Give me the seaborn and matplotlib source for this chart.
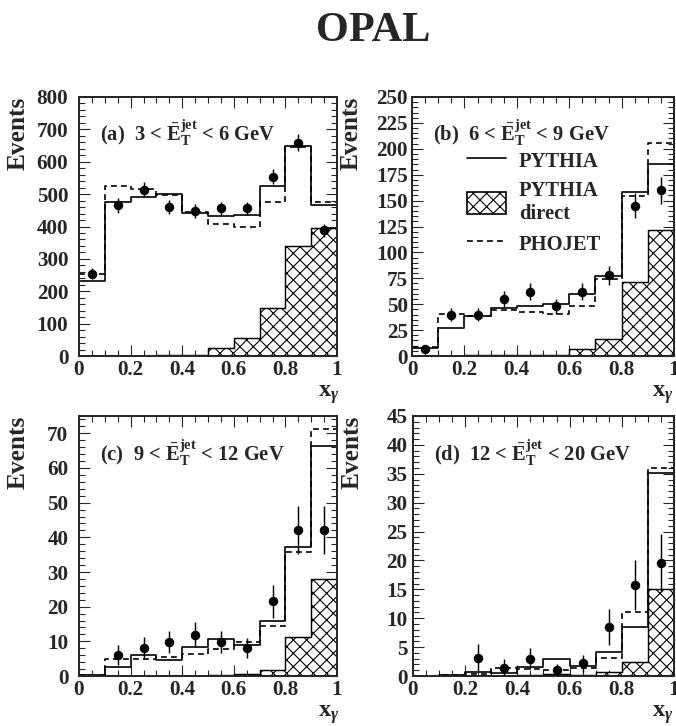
import numpy as np
import pandas as pd
import matplotlib
matplotlib.use("Agg")
import matplotlib.pyplot as plt
import seaborn as sns
from matplotlib.lines import Line2D
from matplotlib.patches import Patch
from matplotlib.ticker import MultipleLocator, FixedLocator, FixedFormatter

# ---------------- data ----------------
bin_edges = [0.0, 0.1, 0.2, 0.3, 0.4, 0.5, 0.6, 0.7, 0.8, 0.9, 1.0]
bin_centers = [0.05, 0.15, 0.25, 0.35, 0.45, 0.55, 0.65, 0.75, 0.85, 0.95]

a_pythia = [233, 477, 490, 500, 443, 431, 436, 526, 650, 465]
a_phojet = [253, 526, 517, 497, 446, 408, 397, 477, 647, 477]
a_direct = [0, 0, 1, 3, 4, 26, 55, 148, 341, 394]
a_data_x = [0.05, 0.15, 0.25, 0.35, 0.45, 0.55, 0.65, 0.75, 0.85, 0.95]
a_data = [254, 465, 514, 461, 447, 456, 456, 554, 659, 389]
a_err = [17, 22, 23, 21, 21, 21, 21, 23, 26, 20]

b_pythia = [8, 27, 39, 46, 48, 50, 60, 77, 158, 185]
b_phojet = [9, 41, 39, 44, 42, 41, 48, 74, 154, 206]
b_direct = [0, 0, 0.5, 0.5, 0.5, 1, 7, 16, 71, 122]
b_data_x = [0.05, 0.15, 0.25, 0.35, 0.45, 0.55, 0.65, 0.75, 0.85, 0.95]
b_data = [7, 40, 40, 55, 62, 48, 62, 78, 145, 160]
b_err = [3, 6.5, 6.5, 7.5, 8, 7, 8, 9, 12, 13]

c_pythia = [0.2, 2.5, 6.2, 4.7, 8.4, 10.6, 8.8, 16.0, 37.3, 66.3]
c_phojet = [0.3, 4.8, 4.8, 5.6, 6.3, 7.9, 9.7, 14.5, 35.9, 71.2]
c_direct = [0, 0, 0, 0, 0, 0.4, 0.5, 1.7, 11.2, 28.0]
c_data_x = [0.15, 0.25, 0.35, 0.45, 0.55, 0.65, 0.75, 0.85, 0.95]
c_data = [6.0, 8.0, 9.8, 11.9, 9.8, 8.1, 21.5, 42.1, 42.1]
c_err = [2.8, 3.2, 3.3, 3.6, 3.2, 3.0, 4.7, 6.8, 6.8]

d_pythia = [0, 0.2, 0.7, 0.5, 1.5, 3.0, 1.8, 4.1, 8.5, 35.1]
d_phojet = [0, 0.1, 0.4, 1.3, 1.2, 1.1, 1.4, 3.1, 11.1, 36.0]
d_direct = [0, 0, 0, 0, 0.1, 0.3, 0.2, 0.7, 2.4, 15.1]
d_data_x = [0.25, 0.35, 0.45, 0.55, 0.65, 0.75, 0.85, 0.95]
d_data = [3.2, 1.3, 3.0, 1.0, 2.2, 8.5, 15.8, 19.6]
d_err = [2.3, 1.6, 1.8, 1.1, 1.5, 3.1, 4.3, 5.0]

panel_labels = [r"(a)  3 < $\bar{\mathbf{E}}_{\mathbf{T}}^{\mathbf{jet}}$ < 6 GeV",
                r"(b)  6 < $\bar{\mathbf{E}}_{\mathbf{T}}^{\mathbf{jet}}$ < 9 GeV",
                r"(c)  9 < $\bar{\mathbf{E}}_{\mathbf{T}}^{\mathbf{jet}}$ < 12 GeV",
                r"(d)  12 < $\bar{\mathbf{E}}_{\mathbf{T}}^{\mathbf{jet}}$ < 20 GeV"]
y_max = [800, 250, 75, 45]
y_major = [100, 25, 10, 5]
y_minor = [20, 5, 2, 1]
x_ticks = [0, 0.2, 0.4, 0.6, 0.8, 1.0]
x_ticklabels = ["0", "0.2", "0.4", "0.6", "0.8", "1"]
legend_labels = ["PYTHIA", "PYTHIA\ndirect", "PHOJET"]

# ---------------- style ----------------
sns.set_theme(style="ticks")
plt.rcParams["font.family"] = ["Liberation Serif", "DejaVu Serif"]
plt.rcParams["font.weight"] = "bold"
plt.rcParams["mathtext.fontset"] = "custom"
plt.rcParams["mathtext.rm"] = "Liberation Serif:bold"
plt.rcParams["mathtext.bf"] = "Liberation Serif:bold"
plt.rcParams["mathtext.it"] = "Liberation Serif:italic"
plt.rcParams["hatch.linewidth"] = 1.0
plt.rcParams["axes.linewidth"] = 1.8

DPI = 80
fig = plt.figure(figsize=(676 / DPI, 726 / DPI), dpi=DPI)
W, H = 676.0, 726.0

# axes boxes in pixels: left, top, right, bottom
boxes = [(79, 97, 337, 356), (412, 97, 674, 356), (79, 416, 337, 676), (413, 416, 674, 676)]
ypads = [9.6, 3.6, 9.6, 5.0]
xlab_x = [1.01, 1.0, 1.01, 1.0]

panels = [
    (a_pythia, a_phojet, a_direct, a_data_x, a_data, a_err),
    (b_pythia, b_phojet, b_direct, b_data_x, b_data, b_err),
    (c_pythia, c_phojet, c_direct, c_data_x, c_data, c_err),
    (d_pythia, d_phojet, d_direct, d_data_x, d_data, d_err),
]

for i, (py, ph, di, dx, dy, de) in enumerate(panels):
    l, t, r, b = boxes[i]
    ax = fig.add_axes([l / W, 1 - b / H, (r - l) / W, (b - t) / H])
    sns.histplot(x=bin_centers, weights=di, bins=bin_edges, element="step", fill=True,
                 color="white", alpha=1, edgecolor="black", linewidth=1.3, hatch="xx", ax=ax)
    sns.histplot(x=bin_centers, weights=py, bins=bin_edges, element="step", fill=False,
                 color="black", linewidth=1.5, ax=ax)
    sns.histplot(x=bin_centers, weights=ph, bins=bin_edges, element="step", fill=False,
                 color="black", linewidth=1.5, linestyle=(0, (3.5, 2.5)), ax=ax)
    ax.errorbar(dx, dy, yerr=de, fmt="o", color="black", markersize=7.5,
                elinewidth=1.3, capsize=0, zorder=5)
    ax.set_xlim(0, 1)
    ax.set_ylim(0, y_max[i])
    ax.xaxis.set_major_locator(FixedLocator(x_ticks))
    ax.xaxis.set_major_formatter(FixedFormatter(x_ticklabels))
    ax.xaxis.set_minor_locator(MultipleLocator(0.05))
    ax.yaxis.set_major_locator(MultipleLocator(y_major[i]))
    ax.yaxis.set_minor_locator(MultipleLocator(y_minor[i]))
    ax.tick_params(which="both", direction="in", top=True, right=True, width=1.0,
                   labelsize=19)
    ax.tick_params(which="major", length=9.5)
    ax.tick_params(which="minor", length=5)
    ax.tick_params(axis="y", which="major", pad=ypads[i])
    ax.tick_params(axis="x", which="major", pad=4)
    for lab in ax.get_xticklabels() + ax.get_yticklabels():
        lab.set_fontweight("bold")
    ax.set_xlabel(r"$\mathbf{x}_{\gamma}$", fontsize=22, ha="right", va="baseline")
    ax.xaxis.set_label_coords(xlab_x[i], -0.158)
    ax.set_ylabel("Events", fontsize=23, fontweight="bold", loc="top")
    ax.yaxis.set_label_coords(-0.19, 1.0)
    ax.text(0.08, 0.86, panel_labels[i], transform=ax.transAxes, fontsize=18.5,
            fontweight="bold", ha="left", va="center")
    if i == 1:
        handles = [Line2D([], [], color="black", lw=1.5),
                   Patch(facecolor="white", edgecolor="black", hatch="xx", lw=1.5),
                   Line2D([], [], color="black", lw=1.5, linestyle=(0, (3.5, 2.5)))]
        ax.legend(handles, legend_labels, loc="upper left", bbox_to_anchor=(0.18, 0.83),
                  frameon=False, fontsize=18.5, handlelength=1.9, handleheight=1.25,
                  handletextpad=0.6, labelspacing=0.42, borderaxespad=0)

fig.text(0.552, 0.957, "OPAL", fontsize=38, fontweight="bold", ha="center", va="center")

fig.savefig("out.png", dpi=DPI)
